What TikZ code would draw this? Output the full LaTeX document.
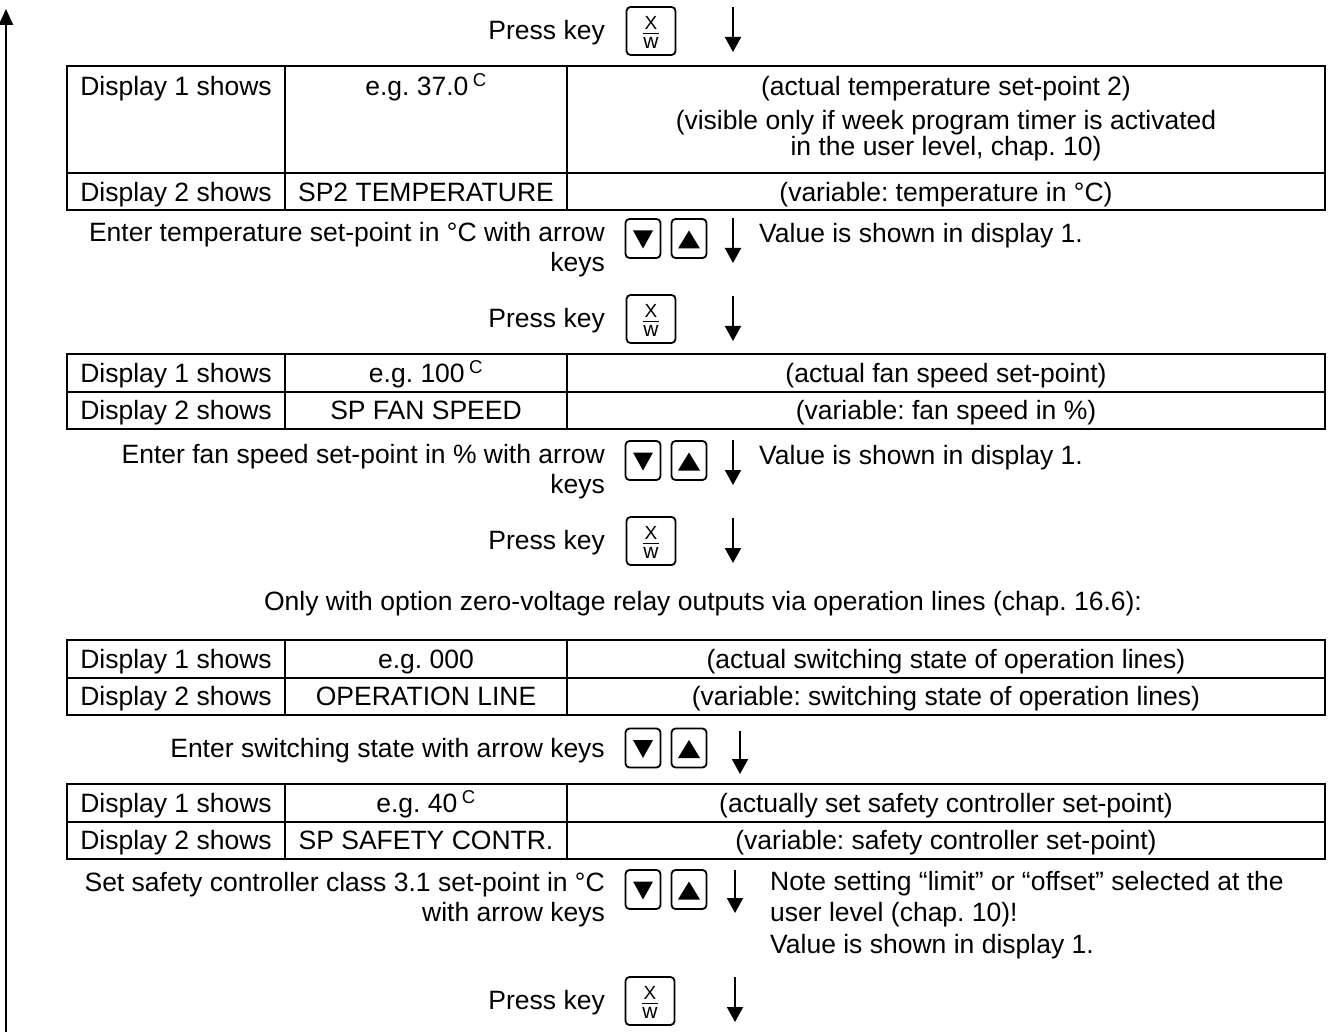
\documentclass[tikz,border=0pt]{standalone}
\usepackage{fontspec}
\setmainfont{Liberation Sans}
\usetikzlibrary{arrows.meta}
\frenchspacing
\tikzset{
  txt/.style={inner sep=0pt, font=\fontsize{26.5}{30}\selectfont},
  one/.style={text height=21.5pt, text depth=2.5pt},
  cell/.style={draw, line width=2pt, inner sep=0pt, outer sep=0pt, anchor=north west, minimum height=37.5pt, text height=21.5pt, text depth=2.5pt, font=\fontsize{26.5}{30}\selectfont},
  keybox/.style={draw, line width=1.8pt, rounded corners=4pt, inner sep=0pt, outer sep=0pt, minimum width=35pt, minimum height=39pt},
  xwbox/.style={draw, line width=1.8pt, rounded corners=4pt, inner sep=0pt, outer sep=0pt, minimum width=49pt, minimum height=48pt},
  arr/.style={line width=2pt, -{Triangle[length=15pt,width=16pt]}},
  pics/downkey/.style={code={
    \node[keybox] (-b) at (0,0) {};
    \fill (-10,-8) -- (10,-8) -- (0,10) -- cycle;
  }},
  pics/upkey/.style={code={
    \node[keybox] (-b) at (0,0) {};
    \fill (-11,10) -- (11,10) -- (0,-8) -- cycle;
  }},
  pics/xwkey/.style={code={
    \node[xwbox] (-b) at (0,0) {};
    \node[inner sep=0pt, text height=13.6pt, text depth=0pt, font=\fontsize{19}{19}\selectfont] (-x) at (0,-8.5) {X};
    \draw[line width=1.4pt] (-8,2.5) -- (8,2.5);
    \node[inner sep=0pt, text height=10.9pt, text depth=0pt, font=\fontsize{21}{21}\selectfont] (-w) at (0,12) {w};
  }},
}
\newcommand\disptable[7]{%
  \node[cell, minimum width=218pt] (#1a1) at (67,#2) {Display 1 shows};
  \node[cell, minimum width=282pt] (#1b1) at (285,#2) {#3};
  \node[cell, minimum width=758pt] (#1c1) at (567,#2) {#4};
  \node[cell, minimum width=218pt] (#1a2) at (67,{#2+37.5}) {Display 2 shows};
  \node[cell, minimum width=282pt] (#1b2) at (285,{#2+37.5}) {#5};
  \node[cell, minimum width=758pt] (#1c2) at (567,{#2+37.5}) {#6};
}
\begin{document}
\begin{tikzpicture}[x=1pt,y=-1pt]
\useasboundingbox (0,0) rectangle (1336,1032);

% left return arrow
\coordinate (Lb) at (6,1032);
\coordinate (Lt) at (6,9);
\draw[line width=2.5pt, -{Triangle[length=16pt,width=14pt]}] (Lb) -- (Lt);

% ---- Press key 1
\node[txt, one, anchor=east] (p1) at (605,30) {Press key};
\pic (k1) at (651,31) {xwkey};
\coordinate (a1s) at (733,7); \coordinate (a1e) at (733,52);
\draw[arr] (a1s) -- (a1e);

% ---- Table 1
\node[cell, minimum width=218pt, minimum height=107pt] (t1a1) at (67,66) {};
\node[cell, minimum width=282pt, minimum height=107pt] (t1b1) at (285,66) {};
\node[cell, minimum width=758pt, minimum height=107pt] (t1c1) at (567,66) {};
\node[cell, minimum width=218pt] (t1a2) at (67,173) {Display 2 shows};
\node[cell, minimum width=282pt] (t1b2) at (285,173) {SP2 TEMPERATURE};
\node[cell, minimum width=758pt] (t1c2) at (567,173) {(variable: temperature in °C)};
\node[txt, one] (t1a1t) at (176,86) {Display 1 shows};
\node[txt, one] (t1b1t) at (426,86) {e.g. 37.0\,\textsuperscript{C}};
\node[txt, one] (t1c1t) at (946,86) {(actual temperature set-point 2)};
\node[txt, align=center, font=\fontsize{26.5}{26}\selectfont] (t1c1u) at (946,136) {(visible only if week program timer is activated\\in the user level, chap. 10)};

% ---- Enter temperature
\node[txt, align=right, anchor=east] (e1) at (605,250) {Enter temperature set-point in °C with arrow\\keys};
\pic (d1) at (643,238.5) {downkey};
\pic (u1) at (689,238.5) {upkey};
\coordinate (a2s) at (733,218); \coordinate (a2e) at (733,263);
\draw[arr] (a2s) -- (a2e);
\node[txt, one, anchor=west] (v1) at (759,233) {Value is shown in display 1.};

% ---- Press key 2
\node[txt, one, anchor=east] (p2) at (605,318) {Press key};
\pic (k2) at (651,319) {xwkey};
\coordinate (a3s) at (733,296); \coordinate (a3e) at (733,341);
\draw[arr] (a3s) -- (a3e);

% ---- Table 2
\disptable{t2}{354}{e.g. 100\,\textsuperscript{C}}{(actual fan speed set-point)}{SP FAN SPEED}{(variable: fan speed in \%)}{}

% ---- Enter fan speed
\node[txt, align=right, anchor=east] (e2) at (605,472) {Enter fan speed set-point in \% with arrow\\keys};
\pic (d2) at (643,460.5) {downkey};
\pic (u2) at (689,460.5) {upkey};
\coordinate (a4s) at (733,440); \coordinate (a4e) at (733,485);
\draw[arr] (a4s) -- (a4e);
\node[txt, one, anchor=west] (v2) at (759,455) {Value is shown in display 1.};

% ---- Press key 3
\node[txt, one, anchor=east] (p3) at (605,540) {Press key};
\pic (k3) at (651,541) {xwkey};
\coordinate (a5s) at (733,518); \coordinate (a5e) at (733,563);
\draw[arr] (a5s) -- (a5e);

% ---- Option note
\node[txt, one] (opt) at (703,601) {Only with option zero-voltage relay outputs via operation lines (chap. 16.6):};

% ---- Table 3
\disptable{t3}{640}{e.g. 000}{(actual switching state of operation lines)}{OPERATION LINE}{(variable: switching state of operation lines)}{}

% ---- Enter switching state
\node[txt, one, anchor=east] (e3) at (605,748) {Enter switching state with arrow keys};
\pic (d3) at (643,748) {downkey};
\pic (u3) at (689,748) {upkey};
\coordinate (a6s) at (740,731); \coordinate (a6e) at (740,774);
\draw[arr] (a6s) -- (a6e);

% ---- Table 4
\disptable{t4}{784}{e.g. 40\,\textsuperscript{C}}{(actually set safety controller set-point)}{SP SAFETY CONTR.}{(variable: safety controller set-point)}{}

% ---- Safety set-point
\node[txt, align=right, anchor=east] (e4) at (605,900) {Set safety controller class 3.1 set-point in °C\\with arrow keys};
\pic (d4) at (643,889.5) {downkey};
\pic (u4) at (689,889.5) {upkey};
\coordinate (a7s) at (735,870); \coordinate (a7e) at (735,913);
\draw[arr] (a7s) -- (a7e);
\node[txt, align=left, anchor=north west, font=\fontsize{26.5}{31.5}\selectfont] (note) at (770,871) {Note setting “limit” or “offset” selected at the\\user level (chap. 10)!\\Value is shown in display 1.};

% ---- Press key 4
\node[txt, one, anchor=east] (p4) at (605,1000) {Press key};
\pic (k4) at (650,1001) {xwkey};
\coordinate (a8s) at (735,977); \coordinate (a8e) at (735,1022);
\draw[arr] (a8s) -- (a8e);
\end{tikzpicture}
\end{document}
